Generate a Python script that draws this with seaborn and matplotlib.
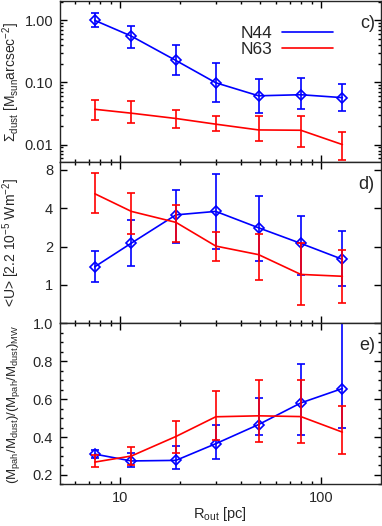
import numpy as np
import pandas as pd
import seaborn as sns
import matplotlib.pyplot as plt
import matplotlib.ticker as mticker
from matplotlib.lines import Line2D

# outer radius of the annulus [pc]
r_out = [7.5, 11.4, 19.0, 30.0, 49.0, 79.5, 128.0]

# c) dust surface density
sig_n44 = [1.00, 0.558, 0.226, 0.099, 0.061, 0.0635, 0.057]
sig_n44_lo = [0.78, 0.36, 0.133, 0.049, 0.032, 0.038, 0.035]
sig_n44_hi = [1.30, 0.82, 0.40, 0.204, 0.114, 0.117, 0.093]
sig_n63 = [0.037, 0.032, 0.0263, 0.0213, 0.0172, 0.017, 0.010]
sig_n63_lo = [0.025, 0.022, 0.0183, 0.0165, 0.0113, 0.0092, 0.0057]
sig_n63_hi = [0.053, 0.050, 0.036, 0.029, 0.029, 0.0285, 0.016]

# d) mean radiation field
u_n44 = [1.39, 2.13, 3.55, 3.78, 2.81, 2.12, 1.59]
u_n44_lo = [1.06, 1.42, 2.12, 1.91, 1.55, 1.20, 0.98]
u_n44_hi = [1.86, 3.22, 5.58, 7.47, 4.95, 3.50, 2.65]
u_n63 = [5.2, 3.78, 3.10, 2.02, 1.73, 1.21, 1.17]
u_n63_lo = [3.65, 2.50, 2.19, 1.53, 1.09, 0.70, 0.72]
u_n63_hi = [7.5, 5.3, 4.25, 2.60, 2.49, 2.12, 1.88]

# e) PAH fraction relative to Milky Way
pah_n44 = [0.310, 0.274, 0.277, 0.365, 0.466, 0.580, 0.656]
pah_n44_lo = [0.290, 0.244, 0.232, 0.284, 0.412, 0.410, 0.450]
pah_n44_hi = [0.333, 0.316, 0.352, 0.466, 0.608, 0.788, 1.10]
pah_n63 = [0.268, 0.300, 0.403, 0.507, 0.512, 0.508, 0.426]
pah_n63_lo = [0.240, 0.250, 0.317, 0.386, 0.372, 0.368, 0.308]
pah_n63_hi = [0.303, 0.347, 0.487, 0.645, 0.703, 0.700, 0.563]

sns.set_style('ticks')
plt.rcParams['font.family'] = ['Liberation Sans', 'DejaVu Sans']
plt.rcParams['mathtext.fontset'] = 'custom'
plt.rcParams['mathtext.rm'] = 'Liberation Sans'
plt.rcParams['mathtext.it'] = 'Liberation Sans:italic'
plt.rcParams['xtick.direction'] = 'in'
plt.rcParams['ytick.direction'] = 'in'
plt.rcParams['xtick.top'] = True
plt.rcParams['ytick.right'] = True
plt.rcParams['axes.linewidth'] = 1.0

fig, axes = plt.subplots(3, 1, figsize=(3.82, 5.26), dpi=100, sharex=True)
fig.subplots_adjust(left=0.157, right=0.997, top=0.998, bottom=0.079, hspace=0)

panels = [
    (sig_n44, sig_n44_lo, sig_n44_hi, sig_n63, sig_n63_lo, sig_n63_hi),
    (u_n44, u_n44_lo, u_n44_hi, u_n63, u_n63_lo, u_n63_hi),
    (pah_n44, pah_n44_lo, pah_n44_hi, pah_n63, pah_n63_lo, pah_n63_hi),
]

for ax, (b, blo, bhi, r, rlo, rhi) in zip(axes, panels):
    b, blo, bhi = np.array(b), np.array(blo), np.array(bhi)
    r, rlo, rhi = np.array(r), np.array(rlo), np.array(rhi)
    df = pd.DataFrame({'R': r_out, 'N44': b, 'N63': r})
    sns.lineplot(data=df, x='R', y='N44', color='blue', lw=1.2, marker='D',
                 ms=5, mfc='none', mec='blue', mew=1.2, ax=ax)
    ax.errorbar(r_out, b, yerr=[b - blo, bhi - b], fmt='none', ecolor='blue',
                elinewidth=1.2, capsize=3, capthick=1.2)
    sns.lineplot(data=df, x='R', y='N63', color='red', lw=1.2, ax=ax)
    ax.errorbar(r_out, r, yerr=[r - rlo, rhi - r], fmt='none', ecolor='red',
                elinewidth=1.2, capsize=3, capthick=1.2)
    ax.set_xscale('log')
    ax.set_xlim(5.03, 199)
    ax.tick_params(which='major', length=5, width=1, labelsize=10.5, pad=5, color='black')
    ax.tick_params(which='minor', length=2.5, width=1, color='black')
    ax.set_xlabel('')

# c)
ax = axes[0]
ax.set_yscale('log')
ax.set_ylim(0.0052, 2.05)
ax.yaxis.set_major_locator(mticker.FixedLocator([0.01, 0.1, 1.0]))
ax.yaxis.set_major_formatter(mticker.FixedFormatter(['0.01', '0.10', '1.00']))
ax.set_ylabel(r'$\Sigma_{\rm dust}$ [M$_{\rm sun}$arcsec$^{-2}$]', fontsize=10)
handles = [Line2D([], [], color='blue', lw=1.2), Line2D([], [], color='red', lw=1.2)]
ax.legend(handles, ['N44', 'N63'], loc='upper right', bbox_to_anchor=(0.85, 0.845),
          frameon=False, markerfirst=False, fontsize=12.5, handlelength=2.9,
          handletextpad=0.6, labelspacing=0.05, borderpad=0, borderaxespad=0)

# d)
ax = axes[1]
ax.set_yscale('log')
ax.set_ylim(0.5, 9.2)
ax.yaxis.set_major_locator(mticker.FixedLocator([1, 2, 4, 8]))
ax.yaxis.set_major_formatter(mticker.FixedFormatter(['1', '2', '4', '8']))
ax.yaxis.set_minor_locator(mticker.NullLocator())
ax.set_ylabel(r'<U> [2.2 10$^{-5}$ Wm$^{-2}$]', fontsize=10)

# e)
ax = axes[2]
ax.set_ylim(0.15, 1.0)
ax.yaxis.set_major_locator(mticker.MultipleLocator(0.2))
ax.yaxis.set_minor_locator(mticker.MultipleLocator(0.05))
ax.yaxis.set_major_formatter(mticker.FormatStrFormatter('%.1f'))
ax.set_ylabel(r'(M$_{\rm pah}$/M$_{\rm dust}$)/(M$_{\rm pah}$/M$_{\rm dust}$)$_{\rm MW}$', fontsize=9.5)
ax.xaxis.set_major_formatter(mticker.FixedFormatter(['10', '100']))
ax.xaxis.set_major_locator(mticker.FixedLocator([10, 100]))
ax.xaxis.set_minor_formatter(mticker.NullFormatter())
ax.set_xlabel(r'R$_{\rm out}$ [pc]', fontsize=10.5, labelpad=0)

for ax, lab in zip(axes, ['c)', 'd)', 'e)']):
    ax.text(0.981, 0.863, lab, transform=ax.transAxes, ha='right', va='center', fontsize=13)
    ax.yaxis.set_label_coords(-0.118, 0.5)

fig.savefig('out.png', dpi=100)
